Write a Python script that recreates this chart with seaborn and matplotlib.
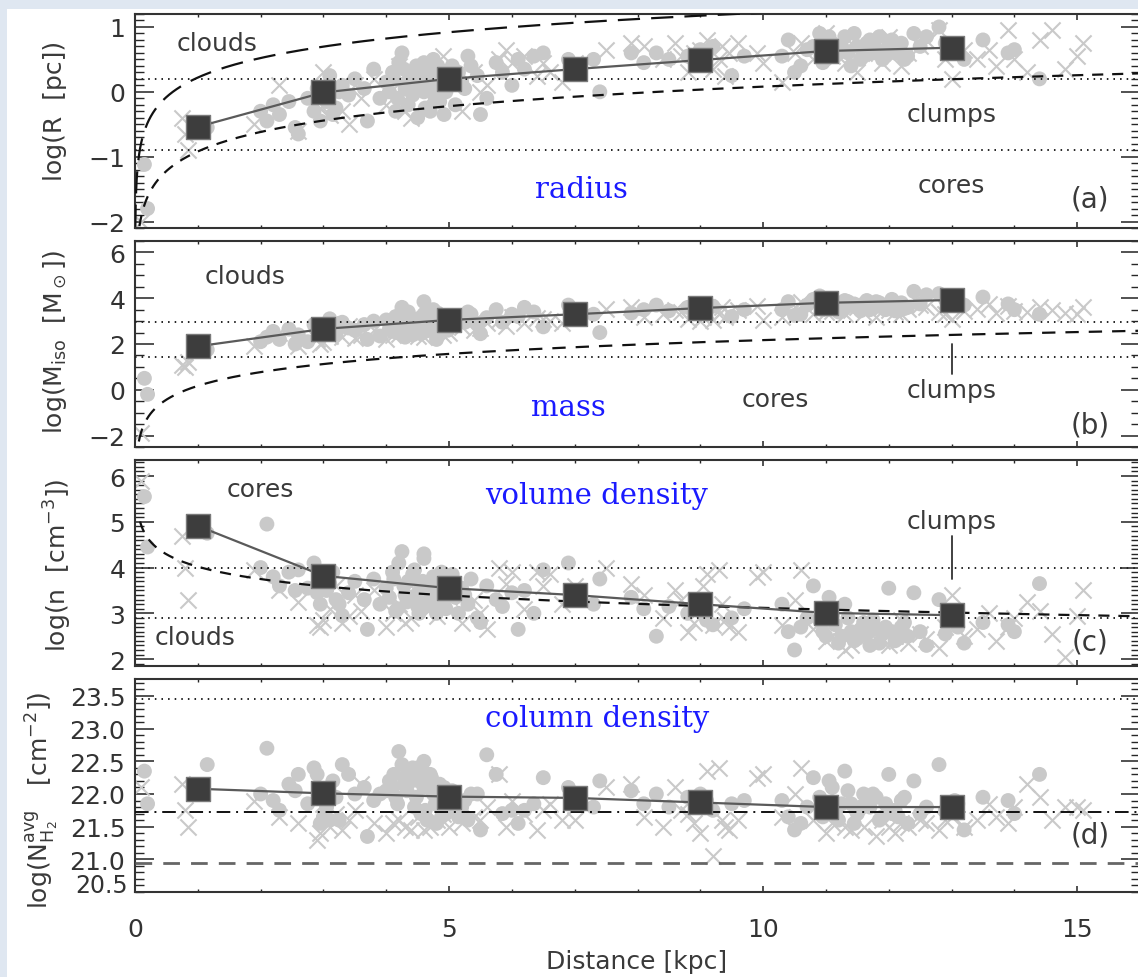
import numpy as np
import matplotlib
matplotlib.use("Agg")
import matplotlib.pyplot as plt
import seaborn as sns
from matplotlib.patches import Rectangle
from matplotlib.ticker import MultipleLocator, FixedLocator, FormatStrFormatter
import matplotlib.transforms as mtransforms

# ---------------- data ----------------
bin_dist = [1, 3, 5, 7, 9, 11, 13]
bin_logR = [-0.54, -0.01, 0.20, 0.35, 0.49, 0.63, 0.68]
bin_logM = [1.90, 2.66, 3.05, 3.30, 3.57, 3.80, 3.92]
bin_logn = [4.91, 3.82, 3.55, 3.40, 3.20, 3.01, 2.96]
bin_logN = [22.08, 22.01, 21.96, 21.94, 21.87, 21.80, 21.80]

# sources drawn as grey circles
circ_dist = [0.15, 0.2, 1.15, 2.0, 2.1, 2.2, 2.3, 2.45, 2.55, 2.6, 2.75, 2.85, 2.95, 3.0, 3.1, 3.2,
             3.3, 3.4, 3.5, 3.65, 3.8, 3.9, 4.0, 4.1, 4.15, 4.2, 4.3, 4.35, 4.4, 4.45, 4.5, 4.55,
             4.6, 4.65, 4.7, 4.75, 4.8, 4.85, 4.9, 4.95, 5.05, 5.1, 5.2, 5.3, 5.45, 5.6, 5.75, 5.85,
             6.0, 6.1, 6.2, 6.35, 6.5, 6.9, 7.3, 7.4, 7.9, 8.1, 8.3, 8.8, 9.0, 9.2, 9.5, 9.7,
             10.3, 10.4, 10.6, 10.8, 10.9, 11.0, 11.1, 11.2, 11.3, 11.4, 11.5, 11.6, 11.7, 11.8, 11.9, 12.0,
             12.1, 12.2, 12.3, 12.6, 12.8, 12.9, 13.1, 13.2, 13.5, 13.9, 14.0, 14.4, 4.25, 4.6, 3.7, 5.5,
             12.4, 10.5, 4.05, 4.12, 4.18, 4.28, 4.33, 4.42, 4.48, 4.52, 4.58, 4.62, 4.68, 4.72, 4.78, 4.82,
             4.88, 4.92, 4.98, 3.05, 3.15, 3.25, 2.9, 5.15, 5.25, 5.35, 10.7, 10.95, 11.05, 11.15, 11.25, 11.35,
             11.45, 11.55, 11.65, 11.75, 11.85, 11.95, 12.05, 12.15, 12.25, 12.5, 13.05, 8.5, 9.1]
circ_logR = [-1.12, -1.80, -0.55, -0.30, -0.45, -0.20, -0.35, -0.15, -0.55, -0.65, -0.10, -0.30, -0.45, 0.05, 0.25, -0.25,
             0.10, -0.05, 0.20, 0.05, 0.35, -0.10, 0.15, 0.30, -0.30, 0.45, 0.05, -0.20, 0.25, 0.10, -0.40, 0.35,
             0.00, 0.20, -0.30, 0.50, 0.10, -0.15, 0.30, 0.00, 0.40, -0.20, 0.15, 0.55, 0.25, -0.10, 0.45, 0.30,
             0.10, 0.50, 0.35, 0.55, 0.60, 0.50, 0.50, 0.00, 0.60, 0.45, 0.60, 0.55, 0.65, 0.70, 0.25, 0.55,
             0.55, 0.80, 0.40, 0.70, 0.90, 0.50, 0.75, 0.60, 0.85, 0.40, 0.70, 0.55, 0.80, 0.65, 0.50, 0.70,
             0.60, 0.75, 0.55, 0.85, 1.00, 0.75, 0.60, 0.50, 0.80, 0.60, 0.65, 0.20, 0.60, 0.45, -0.45, -0.35,
             0.90, 0.30, 0.00, 0.20, -0.10, 0.35, 0.15, -0.05, 0.40, 0.05, 0.25, -0.25, 0.30, 0.10, -0.10, 0.40,
             0.20, -0.35, 0.15, -0.15, -0.35, 0.00, 0.05, 0.30, 0.05, 0.40, 0.65, 0.45, 0.85, 0.55, 0.70, 0.60,
             0.90, 0.50, 0.75, 0.60, 0.85, 0.55, 0.80, 0.65, 0.50, 0.70, 0.70, 0.50, 0.60]
circ_logM = [0.50, -0.20, 1.75, 2.10, 2.30, 2.55, 2.20, 2.65, 2.00, 2.40, 2.10, 2.85, 2.50, 2.70, 3.10, 2.45,
             2.95, 2.70, 2.60, 2.85, 3.00, 2.35, 3.05, 2.55, 3.20, 2.80, 2.30, 3.40, 2.90, 2.60, 3.10, 2.45,
             3.30, 2.75, 2.95, 3.50, 2.20, 3.15, 2.60, 3.00, 3.25, 2.85, 3.10, 3.40, 2.90, 3.15, 3.50, 2.95,
             3.30, 3.20, 3.60, 3.40, 2.75, 3.70, 3.30, 2.50, 3.35, 3.50, 3.70, 3.60, 3.75, 3.65, 3.20, 3.50,
             3.50, 3.85, 3.30, 3.95, 4.10, 3.55, 3.80, 3.40, 3.90, 3.70, 3.60, 3.75, 3.50, 3.85, 3.60, 3.70,
             3.45, 3.80, 3.60, 4.15, 4.20, 3.95, 3.85, 3.70, 4.05, 3.75, 3.50, 3.30, 3.60, 3.85, 2.20, 2.45,
             4.30, 3.25, 2.65, 2.90, 2.50, 3.15, 2.70, 2.40, 3.00, 2.85, 3.20, 2.55, 2.95, 3.10, 2.70, 3.35,
             2.80, 3.05, 2.60, 2.55, 2.75, 2.90, 2.60, 3.20, 2.95, 3.30, 3.70, 3.50, 3.95, 3.65, 3.55, 3.85,
             3.75, 3.45, 3.90, 3.65, 3.80, 3.50, 3.95, 3.70, 3.55, 3.75, 3.80, 3.45, 3.55]
circ_logn = [5.55, 4.45, 4.75, 4.00, 4.95, 3.80, 3.60, 3.90, 3.50, 3.95, 3.55, 4.10, 3.20, 3.85, 3.65, 3.30,
             2.95, 3.45, 3.70, 3.30, 3.75, 3.20, 3.55, 3.90, 3.05, 4.10, 3.40, 3.70, 3.30, 3.95, 3.15, 3.60,
             4.30, 3.25, 3.50, 3.80, 3.00, 3.45, 3.65, 3.10, 3.85, 3.35, 3.55, 3.20, 2.90, 3.60, 3.30, 3.15,
             3.45, 2.65, 3.50, 3.00, 3.95, 4.10, 3.20, 3.75, 3.35, 3.10, 2.50, 3.00, 3.05, 2.75, 2.90, 3.10,
             3.20, 2.60, 2.70, 3.60, 2.85, 2.50, 2.95, 2.35, 3.20, 2.60, 2.45, 2.80, 2.30, 2.65, 2.55, 3.55,
             2.40, 2.70, 2.50, 2.30, 3.30, 2.55, 2.70, 2.35, 2.80, 2.75, 2.60, 3.65, 4.35, 4.20, 2.65, 2.80,
             3.45, 2.20, 3.35, 3.75, 3.10, 3.60, 3.25, 3.85, 3.40, 3.00, 3.70, 3.15, 3.55, 3.35, 3.70, 3.20,
             3.90, 3.30, 3.50, 3.50, 3.90, 3.20, 3.45, 3.00, 3.40, 3.75, 2.90, 2.60, 3.35, 2.75, 2.50, 2.90,
             2.40, 2.65, 2.55, 2.85, 2.35, 2.70, 2.60, 2.45, 2.80, 2.60, 2.80, 3.15, 2.85]
circ_logN = [22.35, 21.85, 22.45, 22.00, 22.70, 21.90, 21.75, 22.15, 22.05, 22.30, 21.85, 22.40, 21.55, 21.65, 21.60, 21.95,
             22.45, 22.30, 22.00, 22.10, 21.90, 22.00, 22.05, 22.10, 21.95, 22.65, 22.25, 22.35, 22.20, 21.80, 22.40, 21.70,
             22.10, 21.60, 22.30, 22.00, 21.55, 22.15, 21.90, 21.70, 22.05, 21.95, 21.80, 21.60, 22.00, 22.60, 22.30, 21.70,
             21.75, 21.55, 21.75, 21.85, 22.25, 22.10, 21.80, 22.20, 22.05, 21.85, 22.00, 21.95, 22.00, 21.75, 21.85, 21.90,
             21.90, 21.65, 21.55, 22.25, 21.95, 21.75, 22.10, 21.60, 22.35, 21.85, 21.70, 22.00, 21.80, 21.95, 21.65, 22.30,
             21.75, 21.90, 21.55, 21.80, 22.45, 21.75, 21.85, 21.45, 21.95, 21.90, 21.70, 22.30, 22.45, 22.50, 21.35, 21.45,
             22.20, 21.45, 22.20, 22.30, 21.85, 22.15, 22.05, 22.40, 21.95, 22.20, 22.35, 21.75, 22.10, 22.25, 21.85, 22.00,
             21.65, 22.10, 21.75, 21.80, 22.20, 21.60, 22.30, 21.65, 21.90, 22.00, 21.80, 21.65, 22.20, 21.70, 21.85, 22.05,
             21.55, 21.80, 21.90, 22.00, 21.60, 21.85, 21.70, 21.65, 21.95, 21.70, 21.90, 21.80, 21.90]

# sources drawn as grey crosses
cross_dist = [0.1, 0.75, 0.8, 0.85, 1.9, 2.3, 2.6, 2.9, 3.0, 3.1, 3.2, 3.4, 3.5, 3.6, 3.8, 4.0,
              4.2, 4.4, 4.5, 4.7, 4.9, 5.2, 5.4, 5.6, 5.8, 5.9, 6.2, 6.4, 6.6, 6.8, 7.0, 7.5,
              7.9, 8.1, 8.4, 8.6, 8.8, 8.9, 9.0, 9.1, 9.2, 9.3, 9.4, 9.6, 9.9, 10.3, 10.5, 10.6,
              11.0, 11.3, 11.5, 11.8, 12.0, 12.2, 12.5, 12.8, 13.0, 13.4, 13.6, 13.7, 13.9, 14.0, 14.2, 14.4,
              14.6, 14.8, 15.0, 15.1, 10.0, 6.0, 4.1, 4.3, 4.6, 4.8, 5.0, 3.3, 2.95, 5.5, 6.5, 8.7,
              9.05, 9.35, 9.45, 11.1, 11.4, 11.6, 11.9, 12.1, 12.3, 12.6, 12.9, 13.2, 10.8]
cross_logR = [-2.00, -0.40, -0.65, -0.90, -0.50, 0.10, -0.60, -0.20, 0.30, -0.35, 0.05, -0.50, 0.10, -0.10, 0.20, -0.20,
              0.40, -0.40, 0.20, -0.10, 0.55, -0.30, 0.30, 0.10, 0.50, 0.65, 0.55, 0.25, 0.30, 0.15, 0.45, 0.65,
              0.75, 0.70, 0.50, 0.75, 0.30, 0.60, 0.65, 0.80, 0.35, 0.50, 0.25, 0.75, 0.60, 0.15, 0.60, 0.75,
              0.90, 0.45, 0.30, 0.60, 0.85, 0.40, 0.70, 0.95, 0.20, 0.50, 0.65, 0.40, 0.95, 0.50, 0.30, 0.80,
              0.95, 0.35, 0.55, 0.75, 0.45, 0.45, 0.05, -0.30, 0.10, -0.20, 0.25, -0.30, -0.25, 0.00, 0.45, 0.55,
              0.45, 0.70, 0.60, 0.55, 0.75, 0.60, 0.45, 0.70, 0.60, 0.80, 0.50, 0.65, 0.50]
cross_logM = [-1.90, 1.10, 1.00, 1.20, 1.90, 2.50, 1.90, 2.20, 2.10, 2.35, 2.55, 2.80, 2.25, 2.40, 2.60, 2.20,
              2.45, 2.70, 2.35, 2.55, 2.40, 2.75, 2.60, 2.90, 3.05, 2.80, 2.90, 3.15, 3.00, 2.90, 3.40, 3.55,
              3.60, 3.20, 3.30, 3.50, 3.10, 3.55, 3.00, 3.40, 3.05, 3.30, 3.20, 3.50, 3.65, 3.20, 3.60, 3.85,
              3.40, 3.30, 3.60, 3.20, 3.50, 3.30, 3.70, 3.40, 3.10, 3.55, 3.75, 3.35, 3.65, 3.45, 3.40, 3.60,
              3.50, 3.35, 3.30, 3.60, 3.05, 3.20, 2.40, 2.60, 2.30, 2.65, 2.50, 2.30, 2.00, 2.70, 3.10, 3.40,
              3.20, 3.60, 3.35, 3.45, 3.50, 3.35, 3.60, 3.40, 3.55, 3.60, 3.30, 3.45, 3.30]
cross_logn = [5.90, 4.70, 4.00, 3.30, 3.95, 3.50, 3.25, 2.75, 2.85, 3.10, 3.60, 2.95, 3.40, 3.05, 3.50, 2.70,
              3.20, 2.90, 3.45, 3.10, 3.80, 2.80, 3.30, 2.65, 4.00, 3.65, 3.10, 3.90, 3.85, 3.20, 3.60, 4.00,
              3.65, 3.40, 2.90, 3.50, 2.60, 2.80, 3.15, 3.85, 2.75, 3.95, 2.85, 2.60, 3.80, 2.75, 3.30, 3.95,
              2.40, 2.20, 2.60, 2.45, 2.30, 2.85, 2.55, 2.25, 3.40, 2.65, 3.00, 2.40, 2.70, 2.90, 3.25, 3.05,
              2.55, 2.05, 2.95, 3.50, 3.90, 3.90, 3.00, 2.80, 3.25, 2.95, 3.35, 2.80, 2.70, 3.00, 3.60, 3.30,
              3.60, 3.20, 2.70, 2.50, 2.30, 2.75, 2.40, 2.50, 2.35, 2.45, 2.70, 2.50, 2.65]
cross_logN = [22.10, 22.15, 21.75, 21.50, 21.90, 21.65, 21.55, 21.30, 21.85, 21.50, 21.70, 21.60, 21.75, 22.15, 21.55, 21.40,
              21.60, 21.45, 21.65, 21.50, 21.70, 21.55, 21.65, 21.80, 22.30, 21.50, 21.70, 21.45, 21.85, 21.60, 21.60, 22.10,
              22.15, 21.65, 21.50, 22.10, 21.70, 21.55, 21.40, 22.35, 21.05, 22.40, 21.50, 21.60, 22.25, 21.65, 22.00, 22.40,
              21.40, 21.50, 21.60, 21.35, 21.50, 21.55, 21.60, 21.45, 21.65, 21.60, 21.85, 21.65, 21.55, 21.80, 22.15, 21.95,
              21.60, 21.80, 21.80, 21.75, 22.30, 21.90, 21.55, 21.50, 21.45, 21.60, 21.50, 21.45, 21.40, 21.60, 21.75, 21.75,
              21.85, 21.60, 21.45, 21.55, 21.45, 21.50, 21.60, 21.40, 21.50, 21.55, 21.60, 21.50, 21.60]

# reference lines (threshold values of each panel)
dotted_R = [0.2, -0.9]
dotted_M = [2.95, 1.45]
dotted_n = [4.0, 2.9]
dotted_N = [23.45]
dashdot_N = 21.72
dashed_N = 20.95

# size-limit model curves: log(y) = slope*log(d) + offset
curve_R_upper = (1.0, 0.22)
curve_R_lower = (1.0, -0.92)
curve_M = (2.0, 0.17)
curve_n = (-0.9, 4.02)

# ---------------- style ----------------
sns.set_theme(style="ticks")
plt.rcParams["font.family"] = ["DejaVu Sans"]
plt.rcParams["mathtext.fontset"] = "dejavusans"
TXT = "#3a3a3a"
GREY = "#c9c9c9"
BLUE = "#1a1aff"
FS = 18

W, H = 1138, 978
fig = plt.figure(figsize=(W / 100, H / 100), dpi=100, facecolor="#dfe7f1")
fig.add_artist(Rectangle((7 / W, 0), 1, 1 - 10 / H, transform=fig.transFigure,
                         facecolor="white", edgecolor="none", zorder=-10))

def fig_axes(top_px, bot_px):
    left, right = 135, 1140
    return fig.add_axes([left / W, 1 - bot_px / H, (right - left) / W, (bot_px - top_px) / H])

ax_a = fig_axes(15, 229)
ax_b = fig_axes(242, 448)
ax_c = fig_axes(461, 667)
ax_d = fig_axes(680, 893)

d_grid = np.geomspace(0.005, 16.5, 500)

def model(params):
    s, o = params
    return s * np.log10(d_grid) + o

def scatter_all(ax, yc, yx, ybin):
    sns.scatterplot(x=circ_dist, y=yc, ax=ax, color=GREY, s=115, edgecolor="none", zorder=2, legend=False)
    sns.scatterplot(x=cross_dist, y=yx, ax=ax, color=GREY, marker="x", s=135, linewidth=1.5, zorder=2, legend=False)
    sns.lineplot(x=bin_dist, y=ybin, ax=ax, color="#5a5a5a", lw=1.6, zorder=4, legend=False)
    sns.scatterplot(x=bin_dist, y=ybin, ax=ax, marker="s", s=290, color="#3d3d3d",
                    edgecolor="#7a7a7a", linewidth=1.0, zorder=5, legend=False)

def hdotted(ax, y):
    ax.axhline(y, color="#222222", lw=1.4, ls=(0, (0.8, 2.6)), zorder=3)

def curve(ax, params, dashes, color="#111111", lw=1.6, dmin=0.005):
    g = d_grid[d_grid >= dmin]
    y = model(params)[d_grid >= dmin]
    sns.lineplot(x=g, y=y, ax=ax, color=color, lw=lw, dashes=False, zorder=3,
                 sort=False, estimator=None, legend=False, linestyle=(0, dashes))

def style(ax, ylim, major, minor, bottom_labels=False, fmt=None):
    ax.set_xlim(0, 16)
    ax.set_ylim(*ylim)
    ax.set_xlabel("")
    ax.set_ylabel("")
    ax.set_facecolor("white")
    for sp in ax.spines.values():
        sp.set_color("#333333")
        sp.set_linewidth(1.5)
        sp.set_visible(True)
    ax.xaxis.set_major_locator(FixedLocator([0, 5, 10, 15]))
    ax.xaxis.set_minor_locator(MultipleLocator(1))
    ax.yaxis.set_major_locator(FixedLocator(major))
    ax.yaxis.set_minor_locator(MultipleLocator(minor))
    if fmt:
        ax.yaxis.set_major_formatter(FormatStrFormatter(fmt))
    ax.tick_params(axis="x", which="major", direction="in", length=4.5, width=1.2, top=True,
                   bottom=True, labelbottom=bottom_labels, pad=18, labelsize=FS, colors="#333333")
    ax.tick_params(axis="x", which="minor", direction="in", length=2.3, width=1.0, top=True, bottom=True)
    ax.tick_params(axis="y", which="major", direction="in", length=14, width=1.2, left=True,
                   right=True, pad=7, labelsize=FS, colors="#333333")
    ax.tick_params(axis="y", which="minor", direction="in", length=6.5, width=1.0, left=True, right=True)

def note(ax, x, y, s, **kw):
    kw.setdefault("fontsize", FS)
    kw.setdefault("color", TXT)
    ax.text(x, y, s, ha="center", va="center", zorder=6, **kw)

# ---------------- panel (a) radius ----------------
scatter_all(ax_a, circ_logR, cross_logR, bin_logR)
for y in dotted_R:
    hdotted(ax_a, y)
curve(ax_a, curve_R_upper, (10, 5))
curve(ax_a, curve_R_lower, (5, 4), dmin=0.07)
style(ax_a, (-2.1, 1.2), [-2, -1, 0, 1], 0.1)
note(ax_a, 1.3, 0.75, "clouds")
note(ax_a, 13.0, -0.34, "clumps")
note(ax_a, 13.0, -1.44, "cores")
note(ax_a, 15.2, -1.65, "(a)", fontsize=20)
note(ax_a, 7.1, -1.5, "radius", fontsize=21, color=BLUE, family="DejaVu Serif")

# ---------------- panel (b) mass ----------------
scatter_all(ax_b, circ_logM, cross_logM, bin_logM)
for y in dotted_M:
    hdotted(ax_b, y)
curve(ax_b, curve_M, (6, 4.5), dmin=0.06)
style(ax_b, (-2.5, 6.5), [-2, 0, 2, 4, 6], 0.5)
note(ax_b, 1.75, 4.97, "clouds")
note(ax_b, 10.2, -0.4, "cores")
note(ax_b, 13.0, 0.0, "clumps")
ax_b.plot([13.0, 13.0], [0.69, 2.0], color="#333333", lw=1.3, zorder=6)
note(ax_b, 15.2, -1.5, "(b)", fontsize=20)
note(ax_b, 6.9, -0.75, "mass", fontsize=21, color=BLUE, family="DejaVu Serif")

# ---------------- panel (c) volume density ----------------
scatter_all(ax_c, circ_logn, cross_logn, bin_logn)
for y in dotted_n:
    hdotted(ax_c, y)
curve(ax_c, curve_n, (5, 4), dmin=0.08)
style(ax_c, (1.85, 6.35), [2, 3, 4, 5, 6], 0.1)
note(ax_c, 2.0, 5.72, "cores")
note(ax_c, 0.95, 2.49, "clouds")
note(ax_c, 13.0, 5.02, "clumps")
ax_c.plot([13.0, 13.0], [3.75, 4.69], color="#333333", lw=1.3, zorder=6)
note(ax_c, 15.2, 2.38, "(c)", fontsize=20)
note(ax_c, 7.35, 5.59, "volume density", fontsize=21, color=BLUE, family="DejaVu Serif")

# ---------------- panel (d) column density ----------------
scatter_all(ax_d, circ_logN, cross_logN, bin_logN)
for y in dotted_N:
    hdotted(ax_d, y)
ax_d.axhline(dashdot_N, color="#111111", lw=1.4, ls=(0, (7, 3, 1, 3)), zorder=3)
ax_d.axhline(dashed_N, color="#666666", lw=2.0, ls=(0, (6, 4)), zorder=3)
style(ax_d, (20.5, 23.76), [21.0, 21.5, 22.0, 22.5, 23.0, 23.5], 0.1, bottom_labels=True, fmt="%.1f")
trans = mtransforms.blended_transform_factory(ax_d.transAxes, ax_d.transData)
ax_d.text(-0.0075, 20.43, "20.5", transform=trans, ha="right", va="bottom",
          fontsize=17, color="#333333")
note(ax_d, 15.2, 21.38, "(d)", fontsize=20)
note(ax_d, 7.35, 23.16, "column density", fontsize=21, color=BLUE, family="DejaVu Serif")

# ---------------- axis titles ----------------
def ylab(x_px, y_px, s):
    fig.text(x_px / W, 1 - y_px / H, s, rotation=90, ha="center", va="center",
             fontsize=FS, color=TXT)

ylab(55, 111, "log(R  [pc])")
ylab(55, 342, r"log(M$_{\rm iso}$  [M$_\odot$])")
ylab(58, 565, r"log(n  [cm$^{-3}$])")
ylab(42, 800, r"log(N$^{\rm avg}_{\rm H_2}$   [cm$^{-2}$])")
fig.text(637 / W, 1 - 962 / H, "Distance [kpc]", ha="center", va="center", fontsize=FS, color=TXT)

fig.savefig("out.png", dpi=100, facecolor=fig.get_facecolor())
